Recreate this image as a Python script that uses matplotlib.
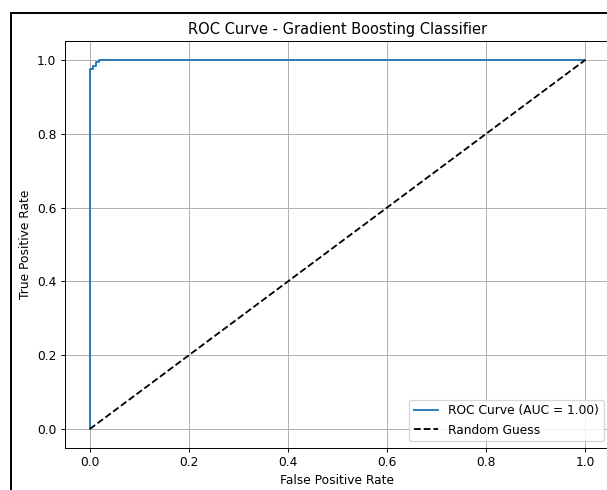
import matplotlib
matplotlib.use("Agg")
from matplotlib import pyplot as plt
from matplotlib.patches import Rectangle

# ROC points
fpr = [0.0, 0.0, 0.007, 0.007, 0.012, 0.012, 0.018, 0.018, 1.0]
tpr = [0.0, 0.975, 0.975, 0.984, 0.984, 0.994, 0.994, 1.0, 1.0]
diag = [0.0, 1.0]
auc_val = 1.00

W, H = 607, 490
DPI = 88  # original looks like a scaled down screenshot
fig = plt.figure(figsize=(W / DPI, H / DPI), dpi=DPI)

# black frame of the original (only left and top edges are visible)
fig.add_artist(Rectangle((10.5 / W, -0.1), 1.2, (H - 12.5) / H + 0.1,
                         transform=fig.transFigure, fill=False,
                         edgecolor="black", linewidth=1.6))

ax = fig.add_axes([65 / W, (H - 447.5) / H, 545 / W, 406 / H])
ax.plot(fpr, tpr, color="tab:blue", label=f"ROC Curve (AUC = {auc_val:.2f})")
ax.plot(diag, diag, "k--", label="Random Guess")
ax.set_title("ROC Curve - Gradient Boosting Classifier")
ax.set_xlabel("False Positive Rate")
ax.set_ylabel("True Positive Rate")
ax.legend(loc="lower right")
ax.grid(True)

fig.savefig("out.png", dpi=DPI)
